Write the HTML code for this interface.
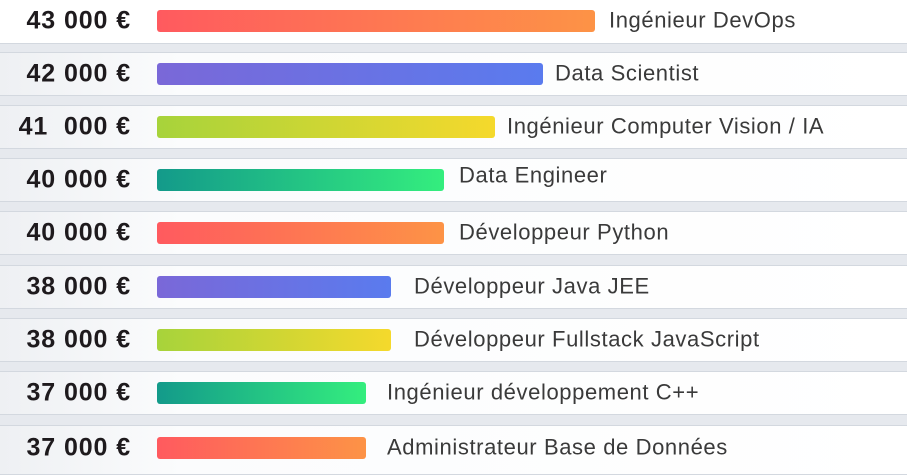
<!DOCTYPE html>
<html><head><meta charset="utf-8"><style>
body{margin:0;width:907px;height:469px;overflow:hidden;background:#e6e9ee;position:relative;font-family:"Liberation Sans",sans-serif}
.row{position:absolute;left:0;width:907px;height:44px;background:linear-gradient(90deg,#eef0f3 0%,#fbfcfd 20%,#fff 100%);border-bottom:1px solid #d3d8df;border-top:1px solid #d3d8df;box-sizing:border-box}
.num{position:absolute;right:776px;top:50%;transform:translateY(-50%);font-weight:bold;font-size:25px;letter-spacing:0.9px;color:#1e1a1d;white-space:nowrap}
.bar{position:absolute;left:157px;top:50%;height:22px;margin-top:-11px;border-radius:3px}
.lab{position:absolute;top:50%;transform:translateY(-52%);font-size:22px;letter-spacing:0.6px;color:#3a3a3a;white-space:nowrap}
.r{background:linear-gradient(90deg,#ff5a5f,#fd9346)}
.b{background:linear-gradient(90deg,#7a68d8,#5a7bee)}
.y{background:linear-gradient(90deg,#a7d33b,#f5d92c)}
.g{background:linear-gradient(90deg,#139a8a,#34ee7e)}
</style></head><body>
<div class="row" style="top:-1px;height:45px;border-top:none;background:#fff"><div class="num">43 000 €</div><div class="bar r" style="width:438px"></div><div class="lab" style="left:609px">Ingénieur DevOps</div></div>
<div class="row" style="top:52px"><div class="num">42 000 €</div><div class="bar b" style="width:386px"></div><div class="lab" style="left:555px">Data Scientist</div></div>
<div class="row" style="top:105px"><div class="num">41&nbsp; 000 €</div><div class="bar y" style="width:338px"></div><div class="lab" style="left:507px">Ingénieur Computer Vision / IA</div></div>
<div class="row" style="top:158px"><div class="num">40 000 €</div><div class="bar g" style="width:287px"></div><div class="lab" style="left:459px;margin-top:-4px">Data Engineer</div></div>
<div class="row" style="top:211px"><div class="num">40 000 €</div><div class="bar r" style="width:287px"></div><div class="lab" style="left:459px">Développeur Python</div></div>
<div class="row" style="top:265px"><div class="num">38 000 €</div><div class="bar b" style="width:234px"></div><div class="lab" style="left:414px">Développeur Java JEE</div></div>
<div class="row" style="top:318px"><div class="num">38 000 €</div><div class="bar y" style="width:234px"></div><div class="lab" style="left:414px">Développeur Fullstack JavaScript</div></div>
<div class="row" style="top:371px"><div class="num">37 000 €</div><div class="bar g" style="width:209px"></div><div class="lab" style="left:387px">Ingénieur développement C++</div></div>
<div class="row" style="top:425px;height:50px"><div class="num" style="top:22px">37 000 €</div><div class="bar r" style="width:209px;top:22px"></div><div class="lab" style="left:387px;top:22px">Administrateur Base de Données</div></div>
</body></html>
